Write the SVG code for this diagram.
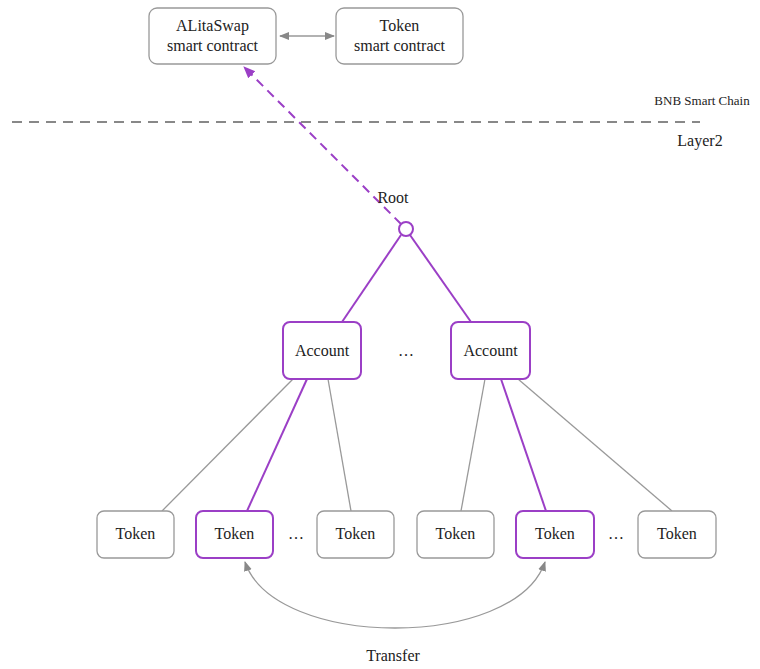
<svg xmlns="http://www.w3.org/2000/svg" width="760" height="669" viewBox="0 0 760 669" font-family="Liberation Serif, DejaVu Serif, serif">
<defs>
<style>
text{font-family:'Liberation Serif','DejaVu Serif',serif;fill:#222;text-anchor:middle}
.t{font-size:16px}
.box{fill:#fff;stroke:#999;stroke-width:1.3}
.pbox{fill:#fff;stroke:#9b3fc6;stroke-width:2}
.g{stroke:#999;stroke-width:1.3;fill:none}
.p{stroke:#9b3fc6;stroke-width:2;fill:none}
</style>
<marker id="ga" markerWidth="10" markerHeight="10" refX="9" refY="5" orient="auto-start-reverse" markerUnits="userSpaceOnUse"><path d="M0,1 L10,5 L0,9 Z" fill="#888"/></marker>
<marker id="pa" markerWidth="12" markerHeight="12" refX="11" refY="6" orient="auto" markerUnits="userSpaceOnUse"><path d="M0,1 L12,6 L0,11 Z" fill="#9b3fc6"/></marker>
</defs>
<rect width="760" height="669" fill="#fff"/>
<g id="connectors">
<line x1="12" y1="122" x2="700" y2="122" stroke="#888" stroke-width="2" stroke-dasharray="10,7"/>
<line x1="280" y1="36" x2="334" y2="36" class="g" marker-start="url(#ga)" marker-end="url(#ga)"/>
<line x1="401" y1="224" x2="244" y2="67" stroke="#9b3fc6" stroke-width="2" stroke-dasharray="9,6" marker-end="url(#pa)"/>
<line x1="401" y1="235" x2="342" y2="322" class="p"/>
<line x1="410" y1="235" x2="471" y2="322" class="p"/>
<line x1="293" y1="379" x2="162" y2="511" class="g"/>
<line x1="307" y1="379" x2="247" y2="511" class="p"/>
<line x1="328" y1="379" x2="351" y2="511" class="g"/>
<line x1="485" y1="379" x2="461" y2="511" class="g"/>
<line x1="501" y1="379" x2="546" y2="511" class="p"/>
<line x1="518" y1="379" x2="672" y2="511" class="g"/>
<path d="M245,562 C275,650 515,650 545,562" class="g" marker-start="url(#ga)" marker-end="url(#ga)"/>
</g>
<g id="alitaswap"><rect x="149" y="8" width="127" height="56" rx="8" class="box"/><text x="212.5" y="31" class="t">ALitaSwap</text><text x="212.5" y="51" class="t">smart contract</text></g>
<g id="token-contract"><rect x="336" y="8" width="127" height="56" rx="8" class="box"/><text x="399.5" y="31" class="t">Token</text><text x="399.5" y="51" class="t">smart contract</text></g>
<g id="labels">
<text x="702" y="105" style="font-size:13px">BNB Smart Chain</text>
<text x="700" y="146" class="t">Layer2</text>
<text x="393" y="203" class="t">Root</text>
<text x="406" y="356" class="t">…</text>
<text x="296" y="539" class="t">…</text>
<text x="616" y="539" class="t">…</text>
<text x="393" y="661" class="t">Transfer</text>
</g>
<g id="root"><circle cx="406" cy="229" r="7" fill="#fff" stroke="#9b3fc6" stroke-width="2"/></g>
<g id="account1"><rect x="283" y="322" width="78" height="57" rx="7" class="pbox"/><text x="322" y="356" class="t">Account</text></g>
<g id="account2"><rect x="451" y="322" width="79" height="57" rx="7" class="pbox"/><text x="490.5" y="356" class="t">Account</text></g>
<g id="token1"><rect x="97" y="511" width="77" height="47" rx="7" class="box"/><text x="135.5" y="539" class="t">Token</text></g>
<g id="token2"><rect x="196" y="511" width="77" height="47" rx="7" class="pbox"/><text x="234.5" y="539" class="t">Token</text></g>
<g id="token3"><rect x="317" y="511" width="77" height="47" rx="7" class="box"/><text x="355.5" y="539" class="t">Token</text></g>
<g id="token4"><rect x="417" y="511" width="77" height="47" rx="7" class="box"/><text x="455.5" y="539" class="t">Token</text></g>
<g id="token5"><rect x="516" y="511" width="78" height="47" rx="7" class="pbox"/><text x="555" y="539" class="t">Token</text></g>
<g id="token6"><rect x="638" y="511" width="78" height="47" rx="7" class="box"/><text x="677" y="539" class="t">Token</text></g>
</svg>
